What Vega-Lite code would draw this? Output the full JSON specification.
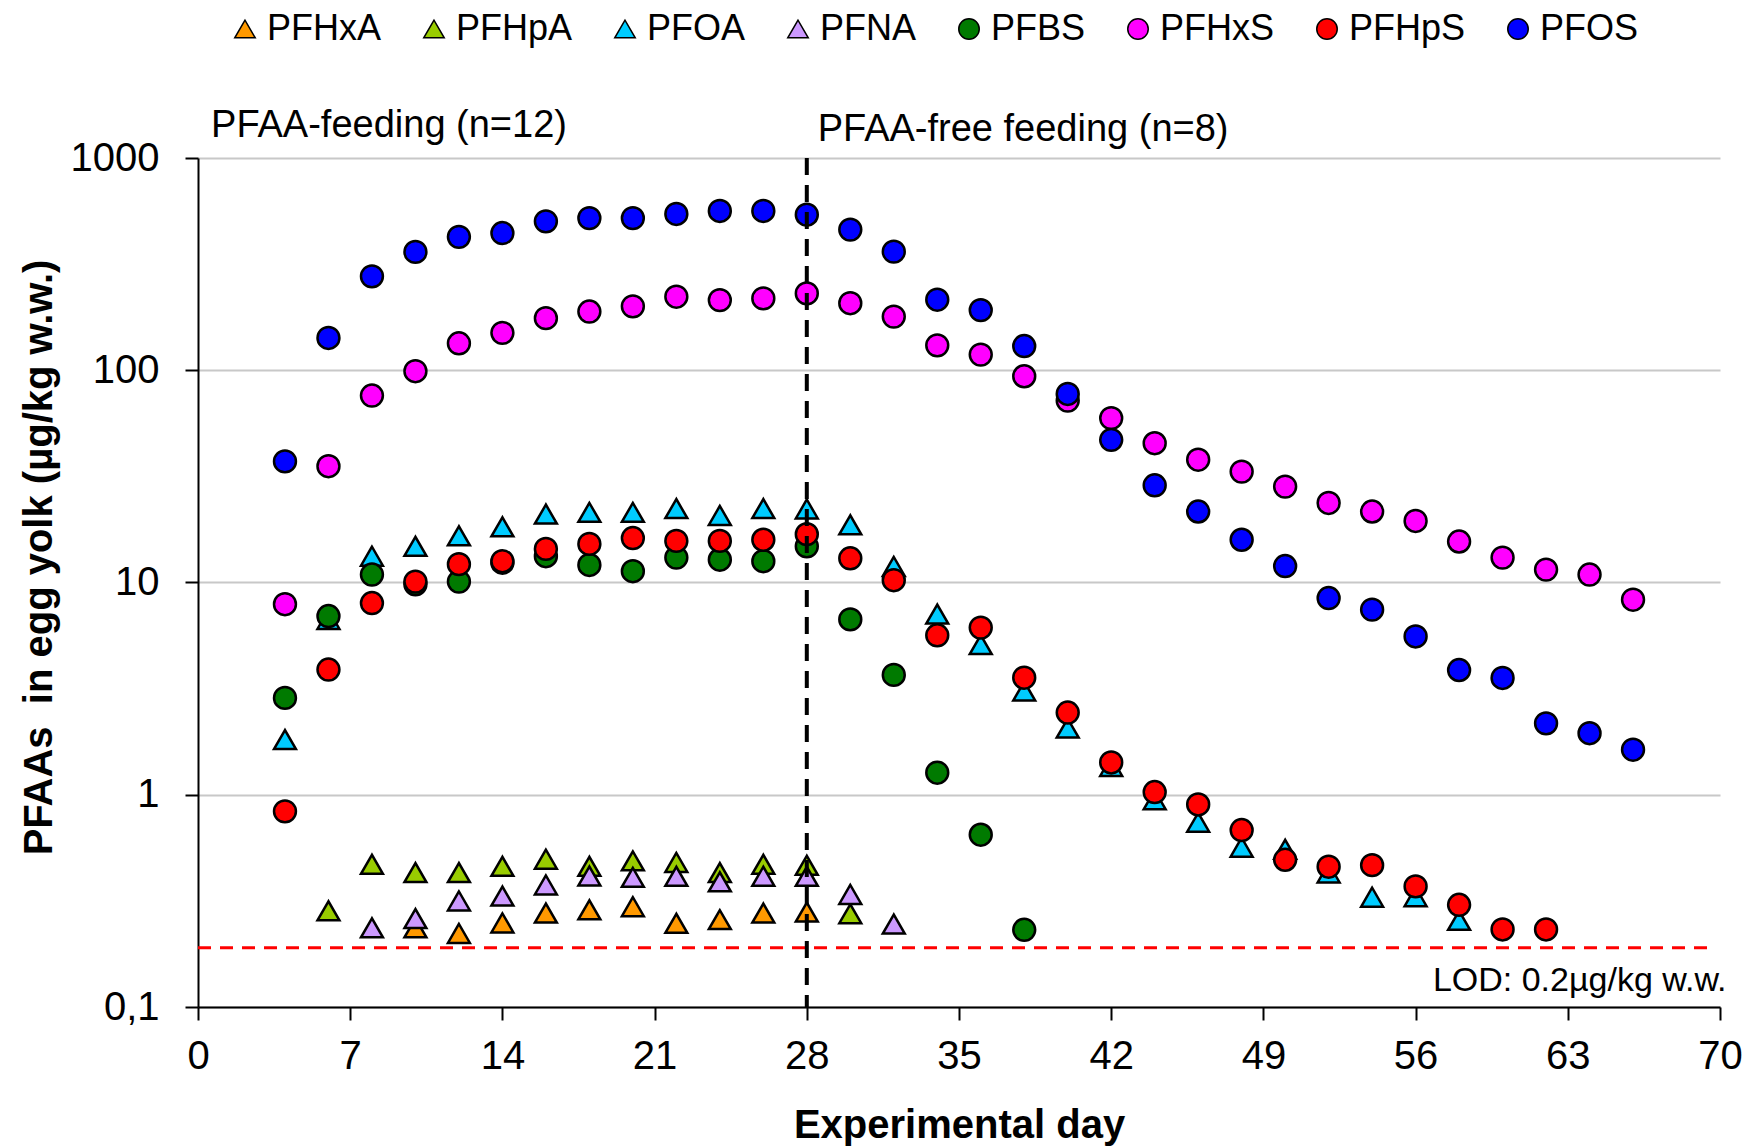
{
  "$schema": "https://vega.github.io/schema/vega-lite/v6.json",
  "width": 1522,
  "height": 849,
  "autosize": {"type": "none"},
  "padding": {"left": 198, "top": 158, "right": 30, "bottom": 140},
  "background": "white",
  "config": {
    "font": "Liberation Sans",
    "view": {"stroke": null},
    "axis": {
      "domainColor": "black",
      "domainWidth": 2,
      "tickColor": "black",
      "tickWidth": 2,
      "tickSize": 13,
      "labelFontSize": 40,
      "labelColor": "black",
      "titleFontSize": 40,
      "titleFontWeight": "bold",
      "titleColor": "black",
      "labelFont": "Liberation Sans",
      "titleFont": "Liberation Sans",
      "labelFlush": false
    }
  },
  "datasets": {
    "pfaa": [
      {"s": "PFHxA", "d": 10, "v": 0.236}, {"s": "PFHxA", "d": 12, "v": 0.222}, {"s": "PFHxA", "d": 14, "v": 0.249}, {"s": "PFHxA", "d": 16, "v": 0.277}, {"s": "PFHxA", "d": 18, "v": 0.287}, {"s": "PFHxA", "d": 20, "v": 0.297}, {"s": "PFHxA", "d": 22, "v": 0.248}, {"s": "PFHxA", "d": 24, "v": 0.258}, {"s": "PFHxA", "d": 26, "v": 0.277}, {"s": "PFHxA", "d": 28, "v": 0.28},
      {"s": "PFHpA", "d": 6, "v": 0.284}, {"s": "PFHpA", "d": 8, "v": 0.47}, {"s": "PFHpA", "d": 10, "v": 0.43}, {"s": "PFHpA", "d": 12, "v": 0.43}, {"s": "PFHpA", "d": 14, "v": 0.46}, {"s": "PFHpA", "d": 16, "v": 0.497}, {"s": "PFHpA", "d": 18, "v": 0.46}, {"s": "PFHpA", "d": 20, "v": 0.488}, {"s": "PFHpA", "d": 22, "v": 0.48}, {"s": "PFHpA", "d": 24, "v": 0.43}, {"s": "PFHpA", "d": 26, "v": 0.47}, {"s": "PFHpA", "d": 28, "v": 0.465}, {"s": "PFHpA", "d": 30, "v": 0.275},
      {"s": "PFOA", "d": 4, "v": 1.82}, {"s": "PFOA", "d": 6, "v": 6.7}, {"s": "PFOA", "d": 8, "v": 13.3}, {"s": "PFOA", "d": 10, "v": 14.8}, {"s": "PFOA", "d": 12, "v": 16.6}, {"s": "PFOA", "d": 14, "v": 18.3}, {"s": "PFOA", "d": 16, "v": 21.0}, {"s": "PFOA", "d": 18, "v": 21.4}, {"s": "PFOA", "d": 20, "v": 21.4}, {"s": "PFOA", "d": 22, "v": 22.3}, {"s": "PFOA", "d": 24, "v": 20.7}, {"s": "PFOA", "d": 26, "v": 22.3}, {"s": "PFOA", "d": 28, "v": 22.2}, {"s": "PFOA", "d": 30, "v": 18.7}, {"s": "PFOA", "d": 32, "v": 11.9}, {"s": "PFOA", "d": 34, "v": 7.1}, {"s": "PFOA", "d": 36, "v": 5.1}, {"s": "PFOA", "d": 38, "v": 3.08}, {"s": "PFOA", "d": 40, "v": 2.06}, {"s": "PFOA", "d": 42, "v": 1.36}, {"s": "PFOA", "d": 44, "v": 0.946}, {"s": "PFOA", "d": 46, "v": 0.742}, {"s": "PFOA", "d": 48, "v": 0.566}, {"s": "PFOA", "d": 50, "v": 0.553}, {"s": "PFOA", "d": 52, "v": 0.428}, {"s": "PFOA", "d": 54, "v": 0.329}, {"s": "PFOA", "d": 56, "v": 0.331}, {"s": "PFOA", "d": 58, "v": 0.256},
      {"s": "PFNA", "d": 8, "v": 0.236}, {"s": "PFNA", "d": 10, "v": 0.261}, {"s": "PFNA", "d": 12, "v": 0.316}, {"s": "PFNA", "d": 14, "v": 0.333}, {"s": "PFNA", "d": 16, "v": 0.376}, {"s": "PFNA", "d": 18, "v": 0.414}, {"s": "PFNA", "d": 20, "v": 0.408}, {"s": "PFNA", "d": 22, "v": 0.413}, {"s": "PFNA", "d": 24, "v": 0.389}, {"s": "PFNA", "d": 26, "v": 0.413}, {"s": "PFNA", "d": 28, "v": 0.413}, {"s": "PFNA", "d": 30, "v": 0.339}, {"s": "PFNA", "d": 32, "v": 0.246},
      {"s": "PFBS", "d": 4, "v": 2.86}, {"s": "PFBS", "d": 6, "v": 6.95}, {"s": "PFBS", "d": 8, "v": 10.9}, {"s": "PFBS", "d": 10, "v": 9.8}, {"s": "PFBS", "d": 12, "v": 10.1}, {"s": "PFBS", "d": 14, "v": 12.4}, {"s": "PFBS", "d": 16, "v": 13.3}, {"s": "PFBS", "d": 18, "v": 12.1}, {"s": "PFBS", "d": 20, "v": 11.3}, {"s": "PFBS", "d": 22, "v": 13.1}, {"s": "PFBS", "d": 24, "v": 12.8}, {"s": "PFBS", "d": 26, "v": 12.6}, {"s": "PFBS", "d": 28, "v": 14.8}, {"s": "PFBS", "d": 30, "v": 6.7}, {"s": "PFBS", "d": 32, "v": 3.67}, {"s": "PFBS", "d": 34, "v": 1.27}, {"s": "PFBS", "d": 36, "v": 0.648}, {"s": "PFBS", "d": 38, "v": 0.231},
      {"s": "PFHxS", "d": 4, "v": 7.9}, {"s": "PFHxS", "d": 6, "v": 35.3}, {"s": "PFHxS", "d": 8, "v": 76}, {"s": "PFHxS", "d": 10, "v": 99}, {"s": "PFHxS", "d": 12, "v": 134}, {"s": "PFHxS", "d": 14, "v": 150}, {"s": "PFHxS", "d": 16, "v": 176}, {"s": "PFHxS", "d": 18, "v": 189}, {"s": "PFHxS", "d": 20, "v": 200}, {"s": "PFHxS", "d": 22, "v": 222}, {"s": "PFHxS", "d": 24, "v": 214}, {"s": "PFHxS", "d": 26, "v": 218}, {"s": "PFHxS", "d": 28, "v": 230}, {"s": "PFHxS", "d": 30, "v": 207}, {"s": "PFHxS", "d": 32, "v": 179}, {"s": "PFHxS", "d": 34, "v": 131}, {"s": "PFHxS", "d": 36, "v": 118.5}, {"s": "PFHxS", "d": 38, "v": 93.7}, {"s": "PFHxS", "d": 40, "v": 72}, {"s": "PFHxS", "d": 42, "v": 59.5}, {"s": "PFHxS", "d": 44, "v": 45.3}, {"s": "PFHxS", "d": 46, "v": 37.9}, {"s": "PFHxS", "d": 48, "v": 33.3}, {"s": "PFHxS", "d": 50, "v": 28.3}, {"s": "PFHxS", "d": 52, "v": 23.7}, {"s": "PFHxS", "d": 54, "v": 21.6}, {"s": "PFHxS", "d": 56, "v": 19.5}, {"s": "PFHxS", "d": 58, "v": 15.6}, {"s": "PFHxS", "d": 60, "v": 13.1}, {"s": "PFHxS", "d": 62, "v": 11.5}, {"s": "PFHxS", "d": 64, "v": 10.9}, {"s": "PFHxS", "d": 66, "v": 8.3},
      {"s": "PFHpS", "d": 4, "v": 0.835}, {"s": "PFHpS", "d": 6, "v": 3.89}, {"s": "PFHpS", "d": 8, "v": 8.0}, {"s": "PFHpS", "d": 10, "v": 10.1}, {"s": "PFHpS", "d": 12, "v": 12.2}, {"s": "PFHpS", "d": 14, "v": 12.6}, {"s": "PFHpS", "d": 16, "v": 14.4}, {"s": "PFHpS", "d": 18, "v": 15.2}, {"s": "PFHpS", "d": 20, "v": 16.2}, {"s": "PFHpS", "d": 22, "v": 15.7}, {"s": "PFHpS", "d": 24, "v": 15.7}, {"s": "PFHpS", "d": 26, "v": 15.9}, {"s": "PFHpS", "d": 28, "v": 16.9}, {"s": "PFHpS", "d": 30, "v": 13.0}, {"s": "PFHpS", "d": 32, "v": 10.25}, {"s": "PFHpS", "d": 34, "v": 5.64}, {"s": "PFHpS", "d": 36, "v": 6.13}, {"s": "PFHpS", "d": 38, "v": 3.56}, {"s": "PFHpS", "d": 40, "v": 2.44}, {"s": "PFHpS", "d": 42, "v": 1.42}, {"s": "PFHpS", "d": 44, "v": 1.03}, {"s": "PFHpS", "d": 46, "v": 0.9}, {"s": "PFHpS", "d": 48, "v": 0.682}, {"s": "PFHpS", "d": 50, "v": 0.494}, {"s": "PFHpS", "d": 52, "v": 0.458}, {"s": "PFHpS", "d": 54, "v": 0.466}, {"s": "PFHpS", "d": 56, "v": 0.37}, {"s": "PFHpS", "d": 58, "v": 0.303}, {"s": "PFHpS", "d": 60, "v": 0.232}, {"s": "PFHpS", "d": 62, "v": 0.232},
      {"s": "PFOS", "d": 4, "v": 37.2}, {"s": "PFOS", "d": 6, "v": 142}, {"s": "PFOS", "d": 8, "v": 277}, {"s": "PFOS", "d": 10, "v": 361}, {"s": "PFOS", "d": 12, "v": 425}, {"s": "PFOS", "d": 14, "v": 443}, {"s": "PFOS", "d": 16, "v": 503}, {"s": "PFOS", "d": 18, "v": 521}, {"s": "PFOS", "d": 20, "v": 521}, {"s": "PFOS", "d": 22, "v": 545}, {"s": "PFOS", "d": 24, "v": 563}, {"s": "PFOS", "d": 26, "v": 563}, {"s": "PFOS", "d": 28, "v": 541}, {"s": "PFOS", "d": 30, "v": 460}, {"s": "PFOS", "d": 32, "v": 362}, {"s": "PFOS", "d": 34, "v": 215}, {"s": "PFOS", "d": 36, "v": 192}, {"s": "PFOS", "d": 38, "v": 130}, {"s": "PFOS", "d": 40, "v": 77.3}, {"s": "PFOS", "d": 42, "v": 47}, {"s": "PFOS", "d": 44, "v": 28.7}, {"s": "PFOS", "d": 46, "v": 21.6}, {"s": "PFOS", "d": 48, "v": 15.9}, {"s": "PFOS", "d": 50, "v": 11.95}, {"s": "PFOS", "d": 52, "v": 8.45}, {"s": "PFOS", "d": 54, "v": 7.45}, {"s": "PFOS", "d": 56, "v": 5.57}, {"s": "PFOS", "d": 58, "v": 3.87}, {"s": "PFOS", "d": 60, "v": 3.55}, {"s": "PFOS", "d": 62, "v": 2.17}, {"s": "PFOS", "d": 64, "v": 1.95}, {"s": "PFOS", "d": 66, "v": 1.63}
    ],
    "notes": [
      {"t": "PFAA-feeding (n=12)", "d": 0.6, "v": 1250},
      {"t": "PFAA-free feeding (n=8)", "d": 28.5, "v": 1200}
    ]
  },
  "layer": [
    {
      "data": {"values": [{"d0": 0, "d1": 69.5, "v": 0.19}]},
      "mark": {"type": "rule", "color": "#ff0000", "strokeWidth": 3, "strokeDash": [13, 9]},
      "encoding": {
        "x": {"field": "d0", "type": "quantitative", "scale": {"domain": [0, 70], "nice": false, "zero": false}},
        "x2": {"field": "d1"},
        "y": {"field": "v", "type": "quantitative", "scale": {"type": "log", "domain": [0.1, 1000], "nice": false}}
      }
    },
    {
      "data": {"name": "pfaa"},
      "mark": {"type": "point", "filled": true, "opacity": 1, "stroke": "black", "strokeWidth": 2.5, "size": 480},
      "encoding": {
        "x": {
          "field": "d", "type": "quantitative",
          "scale": {"domain": [0, 70], "nice": false, "zero": false},
          "axis": {
            "values": [0, 7, 14, 21, 28, 35, 42, 49, 56, 63, 70],
            "title": "Experimental day",
            "grid": false,
            "labelFlush": false,
            "labelPadding": 16,
            "titleBaseline": "alphabetic",
            "titleY": 130
          }
        },
        "y": {
          "field": "v", "type": "quantitative",
          "scale": {"type": "log", "domain": [0.1, 1000], "nice": false},
          "axis": {
            "values": [0.1, 1, 10, 100, 1000],
            "labelExpr": "datum.value < 1 ? '0,1' : format(datum.value, 'd')",
            "title": "PFAAs\u00a0 in egg yolk (µg/kg w.w.)",
            "grid": true,
            "gridColor": "#c8c8c8",
            "gridWidth": 2,
            "labelPadding": 26,
            "titleAngle": -90,
            "titleBaseline": "middle",
            "titleX": -159,
            "titleY": 399
          }
        },
        "color": {
          "field": "s", "type": "nominal",
          "scale": {
            "domain": ["PFHxA", "PFHpA", "PFOA", "PFNA", "PFBS", "PFHxS", "PFHpS", "PFOS"],
            "range": ["#ff9900", "#99cc00", "#00ccff", "#cc99ff", "#007a00", "#ff00ff", "#ff0000", "#0000ff"]
          },
          "legend": {
            "title": null, "orient": "none", "direction": "horizontal", "legendX": 29, "legendY": -147,
            "labelFontSize": 36, "labelColor": "black", "symbolSize": 420, "columnPadding": 34, "labelOffset": 4,
            "symbolStrokeColor": "black", "symbolStrokeWidth": 1.5
          }
        },
        "shape": {
          "field": "s", "type": "nominal",
          "scale": {
            "domain": ["PFHxA", "PFHpA", "PFOA", "PFNA", "PFBS", "PFHxS", "PFHpS", "PFOS"],
            "range": ["triangle-up", "triangle-up", "triangle-up", "triangle-up", "circle", "circle", "circle", "circle"]
          },
          "legend": {
            "title": null, "orient": "none", "direction": "horizontal", "legendX": 29, "legendY": -147,
            "labelFontSize": 36, "labelColor": "black", "symbolSize": 420, "columnPadding": 34, "labelOffset": 4,
            "symbolStrokeColor": "black", "symbolStrokeWidth": 1.5
          }
        }
      }
    },
    {
      "data": {"values": [{"d": 28}]},
      "mark": {"type": "rule", "color": "black", "strokeWidth": 4, "strokeDash": [17, 10]},
      "encoding": {"x": {"field": "d", "type": "quantitative"}}
    },
    {
      "data": {"name": "notes"},
      "mark": {"type": "text", "align": "left", "baseline": "alphabetic", "fontSize": 38, "color": "black"},
      "encoding": {
        "x": {"field": "d", "type": "quantitative"},
        "y": {"field": "v", "type": "quantitative"},
        "text": {"field": "t"}
      }
    },
    {
      "data": {"values": [{"t": "LOD: 0.2µg/kg w.w.", "d": 70.3, "v": 0.119}]},
      "mark": {"type": "text", "align": "right", "baseline": "alphabetic", "fontSize": 34, "color": "black"},
      "encoding": {
        "x": {"field": "d", "type": "quantitative"},
        "y": {"field": "v", "type": "quantitative"},
        "text": {"field": "t"}
      }
    }
  ]
}
